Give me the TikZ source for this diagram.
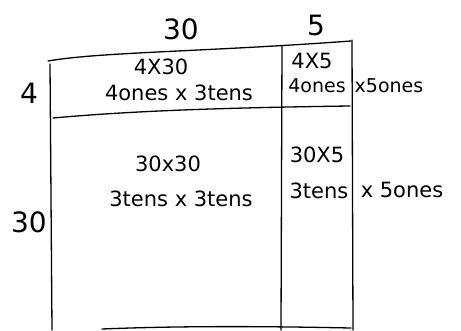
\documentclass[tikz,border=0pt]{standalone}
\usepackage{fontspec}
\setmainfont{DejaVu Sans}
\begin{document}
\begin{tikzpicture}[x=1pt,y=-1pt,
  pen/.style={line width=1.3pt,line cap=round,line join=round},
  lbl/.style={inner sep=0pt,font=\fontsize{28}{30}\selectfont},
  txt/.style={inner sep=0pt,font=\fontsize{21}{22}\selectfont},
  sm/.style={inner sep=0pt,font=\fontsize{19}{20}\selectfont}]
\useasboundingbox (0,0) rectangle (461,330);
% outline
\coordinate (tl) at (48,61);
\coordinate (tr) at (351,41);
\coordinate (ml) at (53,118);
\coordinate (mr) at (350,106);
\coordinate (bl) at (52,330);
\coordinate (br) at (353,330);
\coordinate (vt) at (282,46);
\coordinate (vb) at (281,330);
\draw[pen] (tl) .. controls (100,52) and (200,52) .. (tr);
\draw[pen] (50,64) -- (bl);
\draw[pen] (352,40) -- (br);
\draw[pen] (ml) .. controls (120,112) and (200,108) .. (mr);
\draw[pen] (vt) -- (vb);
\draw[pen] (102,329) .. controls (200,325) and (300,327) .. (351,328);
% side labels
\node[lbl] (c30) at (181,29) {30};
\node[lbl] (c5) at (316,25) {5};
\node[lbl] (r4) at (29,93) {4};
\node[lbl] (r30) at (29,222) {30};
% cell texts
\node[txt] (a1) at (161,67) {4X30};
\node[txt] (a2) at (179,93) {4ones x 3tens};
\node[txt] (b1) at (312,61) {4X5};
\node[sm] (b2) at (317,86) {4ones};
\node[sm] (b3) at (389,86) {x5ones};
\node[txt] (c1) at (168,164) {30x30};
\node[txt] (c2) at (181,199) {3tens x 3tens};
\node[txt] (d1) at (317,155) {30X5};
\node[txt] (d2) at (319,191) {3tens};
\node[txt] (d3) at (402,190) {x 5ones};
\end{tikzpicture}
\end{document}
